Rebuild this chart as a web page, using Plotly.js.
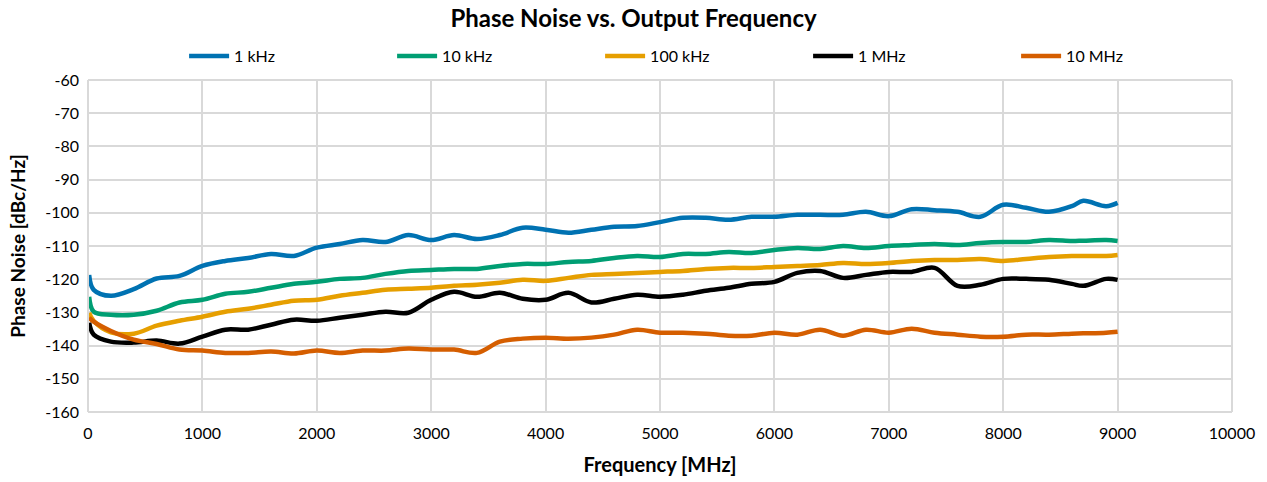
<!DOCTYPE html>
<html>
<head>
<meta charset="utf-8">
<script src="https://cdn.plot.ly/plotly-3.0.1.min.js"></script>
<style>html,body{margin:0;padding:0;background:#fff;}#chart{width:1267px;height:482px;}</style>
</head>
<body>
<div id="chart"></div>
<script>
const freqMHz = [10, 50, 200, 400, 600, 800, 1000, 1200, 1400, 1600, 1800, 2000, 2200, 2400, 2600, 2800, 3000, 3200, 3400, 3600, 3800, 4000, 4200, 4400, 4600, 4800, 5000, 5200, 5400, 5600, 5800, 6000, 6200, 6400, 6600, 6800, 7000, 7200, 7400, 7600, 7800, 8000, 8200, 8400, 8600, 8700, 8900, 9000];

const pn1kHz = [-118.7, -123.2, -125, -123, -119.8, -119, -116, -114.5, -113.6, -112.4, -113, -110.5, -109.4, -108.2, -108.8, -106.7, -108.2, -106.7, -107.9, -106.7, -104.5, -105.1, -106, -105.1, -104.2, -104, -102.8, -101.5, -101.5, -102.1, -101.2, -101.2, -100.6, -100.6, -100.6, -99.7, -101, -98.9, -99.2, -99.7, -101.2, -97.6, -98.5, -99.7, -98, -96.4, -98, -97];

const pn10kHz = [-125.3, -129.8, -130.7, -130.7, -129.5, -127, -126.2, -124.4, -123.8, -122.6, -121.4, -120.8, -119.9, -119.6, -118.4, -117.5, -117.2, -116.9, -116.9, -116, -115.4, -115.4, -114.8, -114.5, -113.6, -113, -113.3, -112.4, -112.4, -111.8, -112.1, -111.2, -110.6, -110.9, -110, -110.6, -110, -109.7, -109.4, -109.7, -109.1, -108.8, -108.8, -108.2, -108.5, -108.4, -108.2, -108.5];

const pn100kHz = [-130.1, -132.6, -136, -136.4, -134, -132.5, -131.3, -129.8, -128.9, -127.7, -126.5, -126.2, -125, -124.1, -123.2, -122.9, -122.6, -122, -121.7, -121.1, -120.2, -120.5, -119.6, -118.7, -118.4, -118.1, -117.8, -117.5, -116.9, -116.6, -116.6, -116.3, -116, -115.7, -115.1, -115.4, -115.1, -114.5, -114.2, -114.2, -113.9, -114.5, -113.9, -113.3, -113, -113, -113, -112.7];

const pn1MHz = [-133.1, -136.7, -138.8, -139.1, -138.5, -139.4, -137.3, -135.2, -135.2, -133.7, -132.2, -132.5, -131.6, -130.7, -129.8, -130.1, -126.2, -123.8, -125.3, -124.1, -125.9, -126.2, -124.1, -127, -125.9, -124.7, -125.3, -124.7, -123.5, -122.6, -121.4, -120.8, -118.1, -117.5, -119.6, -118.7, -117.8, -117.8, -116.6, -122, -121.7, -119.9, -119.9, -120.2, -121.4, -122, -119.9, -120.2];

const pn10MHz = [-131.6, -132.8, -135.6, -138.2, -139.5, -141.2, -141.5, -142.2, -142.2, -141.8, -142.4, -141.5, -142.2, -141.5, -141.5, -140.9, -141.2, -141.2, -142.2, -138.8, -137.9, -137.6, -137.9, -137.6, -136.7, -135.2, -136.1, -136.1, -136.4, -137, -137, -136.1, -136.7, -135.2, -137, -135.2, -136.1, -134.9, -136.1, -136.7, -137.3, -137.3, -136.7, -136.7, -136.4, -136.3, -136.1, -135.8];

const seriesNames = ['1 kHz', '10 kHz', '100 kHz', '1 MHz', '10 MHz'];
const seriesValues = [pn1kHz, pn10kHz, pn100kHz, pn1MHz, pn10MHz];
const seriesColors = ['#0072B2', '#009E73', '#E69F00', '#000000', '#D55E00'];

const xTicks = [0, 1000, 2000, 3000, 4000, 5000, 6000, 7000, 8000, 9000, 10000];
const yTicks = [-60, -70, -80, -90, -100, -110, -120, -130, -140, -150, -160];

const FONT = 'Lato, "Open Sans", sans-serif';

const traces = seriesNames.map((name, i) => ({
  type: 'scatter',
  mode: 'lines',
  name: name,
  x: freqMHz,
  y: seriesValues[i],
  line: {color: seriesColors[i], width: 4.5, shape: 'spline', smoothing: 1},
  hoverinfo: 'x+y+name'
}));

const layout = {
  width: 1267,
  height: 482,
  paper_bgcolor: '#ffffff',
  plot_bgcolor: '#ffffff',
  font: {family: FONT, size: 16, color: '#000000'},
  margin: {l: 88, r: 35, t: 80, b: 70, pad: 0},
  title: {
    text: '<b>Phase Noise vs. Output Frequency</b>',
    font: {family: FONT, size: 24, color: '#000000'},
    x: 0.5, xanchor: 'center', y: 0.962, yanchor: 'middle'
  },
  showlegend: true,
  legend: {
    orientation: 'h',
    x: 0.084, xanchor: 'left',
    y: 1.072, yanchor: 'middle',
    font: {family: FONT, size: 16, color: '#000000'},
    entrywidth: 153,
    traceorder: 'normal',
    itemwidth: 40
  },
  xaxis: {
    range: [0, 10000],
    tickvals: xTicks,
    ticktext: xTicks.map(String),
    showgrid: true,
    gridcolor: '#d9d9d9',
    gridwidth: 2,
    zeroline: false,
    showline: false,
    ticks: '',
    tickfont: {family: FONT, size: 16, color: '#000000'},
    ticklabelstandoff: 10,
    title: {text: '<b>Frequency [MHz]</b>', font: {family: FONT, size: 20, color: '#000000'}, standoff: 16}
  },
  yaxis: {
    range: [-160, -60],
    tickvals: yTicks,
    ticktext: yTicks.map(String),
    showgrid: true,
    gridcolor: '#d9d9d9',
    gridwidth: 2,
    zeroline: false,
    showline: false,
    ticks: '',
    tickfont: {family: FONT, size: 16, color: '#000000'},
    ticklabelstandoff: 8,
    title: {text: '<b>Phase Noise [dBc/Hz]</b>', font: {family: FONT, size: 19, color: '#000000'}, standoff: 14}
  },
  shapes: [
    {type: 'line', xref: 'paper', yref: 'paper', x0: 0, x1: 0, y0: 0, y1: 1, line: {color: '#d9d9d9', width: 2}},
    {type: 'line', xref: 'paper', yref: 'paper', x0: 1, x1: 1, y0: 0, y1: 1, line: {color: '#d9d9d9', width: 2}},
    {type: 'line', xref: 'paper', yref: 'paper', x0: 0, x1: 1, y0: 0, y1: 0, line: {color: '#d9d9d9', width: 2}},
    {type: 'line', xref: 'paper', yref: 'paper', x0: 0, x1: 1, y0: 1, y1: 1, line: {color: '#d9d9d9', width: 2}}
  ]
};

Plotly.newPlot('chart', traces, layout, {displayModeBar: false, staticPlot: true});
</script>
</body>
</html>
